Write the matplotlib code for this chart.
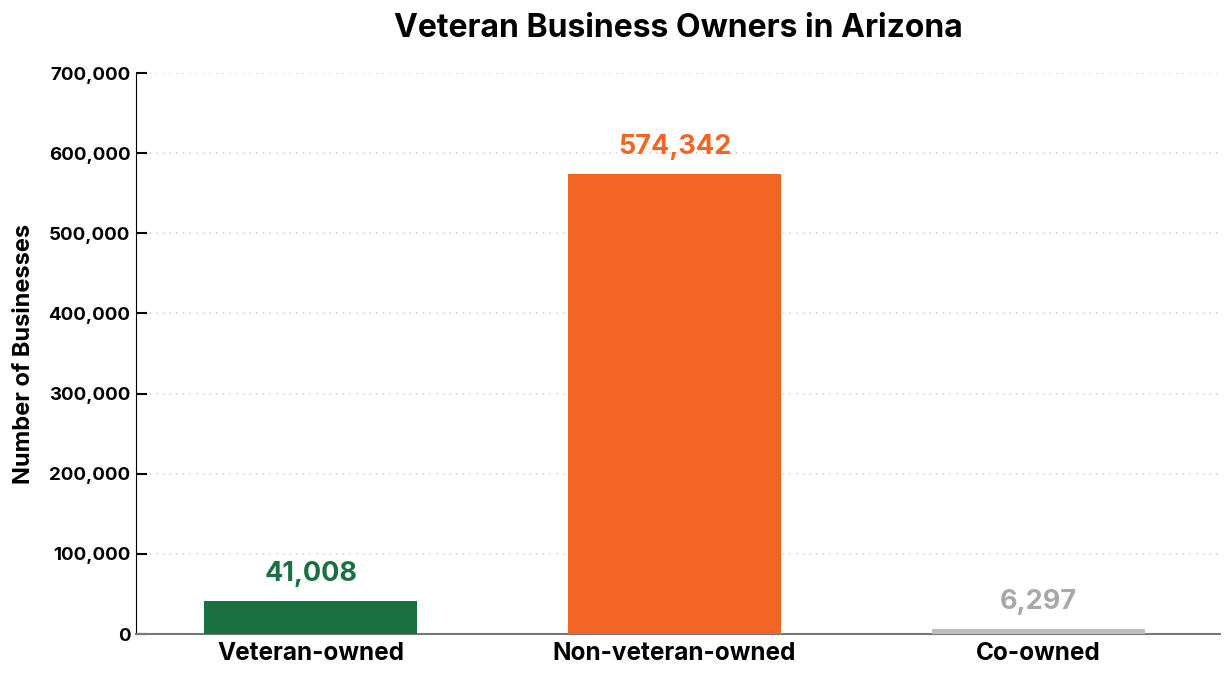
import matplotlib.pyplot as plt
from matplotlib.ticker import FuncFormatter

categories = ["Veteran-owned", "Non-veteran-owned", "Co-owned"]
counts = [41008, 574342, 6297]
bar_colors = ["#1b7042", "#f26522", "#bdbdbd"]
label_colors = ["#1b7042", "#f26522", "#a8a8a8"]
yticks = [0, 100000, 200000, 300000, 400000, 500000, 600000, 700000]

plt.rcParams['font.family'] = ['Inter', 'DejaVu Sans']

fig = plt.figure(figsize=(12.3, 6.8), dpi=100)
ax = fig.add_axes([0.1106, 0.0676, 0.8814, 0.825])

x = range(len(categories))
ax.bar(x, counts, width=0.585, color=bar_colors, zorder=3)

# value labels above the bars
for i, v in enumerate(counts):
    ax.annotate(f"{v:,}", (i, v), xytext=(0, 10), textcoords="offset points",
                ha="center", va="bottom", fontsize=19.5, fontweight="bold",
                color=label_colors[i])

ax.set_xlim(-0.48, 2.5)
ax.set_ylim(0, 700000)
ax.set_yticks(yticks)
ax.yaxis.set_major_formatter(FuncFormatter(lambda v, p: f"{int(v):,}"))
ax.set_xticks(list(x))
ax.set_xticklabels(categories, fontsize=17.5, fontweight="bold")
ax.tick_params(axis="x", length=0, pad=6)
ax.tick_params(axis="y", direction="in", length=8, width=1.5, labelsize=13.5, pad=4)
for lab in ax.get_yticklabels():
    lab.set_fontweight("bold")

ax.grid(axis="y", linestyle=(0, (1, 3)), color="#d6d6d6", linewidth=1.2, zorder=0)
ax.spines["top"].set_visible(False)
ax.spines["right"].set_visible(False)
ax.spines["left"].set_color("black")
ax.spines["bottom"].set_color("#777777")
ax.spines["bottom"].set_linewidth(1.5)

ax.set_ylabel("Number of Businesses", fontsize=17, fontweight="bold", labelpad=10)
ax.set_title("Veteran Business Owners in Arizona", fontsize=23, fontweight="bold", pad=26)

fig.savefig("out.png", dpi=100)
